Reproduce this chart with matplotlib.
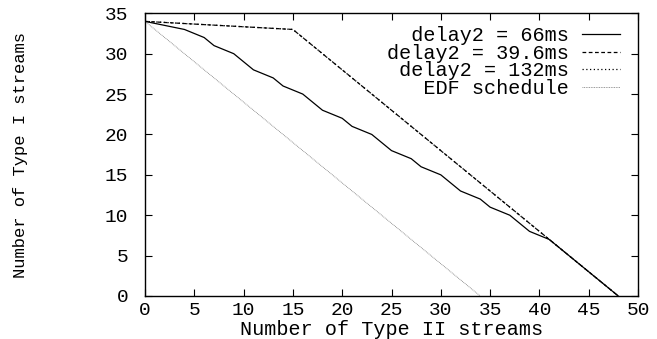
import matplotlib
matplotlib.use("Agg")
import matplotlib.pyplot as plt

# ---- Data ----
x_66 = [0, 4, 6, 7, 9, 11, 13, 14, 16, 18, 20, 21, 23, 25, 27, 28, 30, 32, 34, 35, 37, 39, 41, 48]
y_66 = [34, 33, 32, 31, 30, 28, 27, 26, 25, 23, 22, 21, 20, 18, 17, 16, 15, 13, 12, 11, 10, 8, 7, 0]

x_396 = [0, 15, 41, 48]
y_396 = [34, 33, 7, 0]

x_132 = [0, 15, 41, 48]
y_132 = [34, 33, 7, 0]

x_edf = [0, 34]
y_edf = [34, 0]

labels = ["delay2 = 66ms", "delay2 = 39.6ms", "delay2 = 132ms", "EDF schedule"]

font = "Liberation Mono"
plt.rcParams["font.family"] = [font, "DejaVu Sans Mono"]

fig = plt.figure(figsize=(6.57, 3.39), dpi=100)
ax = fig.add_axes([145 / 657, 1 - 296 / 339, (638 - 145) / 657, (296 - 13.3) / 339])

# monospace font: right-align legend text by padding with spaces
width = max(len(s) for s in labels)
padded = [s.rjust(width) for s in labels]

# ---- Lines ----
ax.plot(x_66, y_66, color="black", lw=0.9, label=padded[0])
ax.plot(x_396, y_396, color="black", lw=0.9, linestyle=(0, (3, 2)), label=padded[1])
ax.plot(x_132, y_132, color="black", lw=0.9, linestyle=(0, (1, 2)), label=padded[2])
ax.plot(x_edf, y_edf, color="#777777", lw=0.6, linestyle=(0, (1, 1)), label=padded[3])

# ---- Axes ----
ax.set_xlim(0, 50)
ax.set_ylim(0, 35)
ax.set_xticks(range(0, 51, 5))
ax.set_yticks(range(0, 36, 5))
ax.tick_params(direction="in", top=True, right=True, length=5, width=0.8, labelsize=14)
ax.tick_params(axis="x", pad=4)
ax.tick_params(axis="y", pad=12)
for s in ax.spines.values():
    s.set_linewidth(1.0)

ax.set_xlabel("Number of Type II streams", fontsize=14.5, labelpad=1)
ax.set_ylabel("Number of Type I streams", fontsize=12.3, labelpad=55)

# ---- Legend ----
ax.legend(loc="upper right", markerfirst=False, frameon=False, fontsize=14.5,
          handlelength=1.9, handletextpad=0.65, labelspacing=-0.07,
          borderpad=0, borderaxespad=0, bbox_to_anchor=(0.9635, 0.955))

fig.savefig("out.png", dpi=100)
